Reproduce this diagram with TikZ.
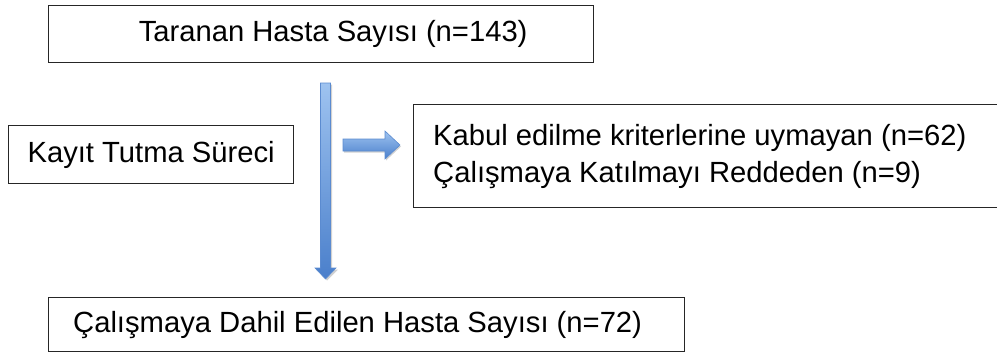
\documentclass[tikz,border=0pt]{standalone}
\usepackage{fontspec}
\setmainfont{Liberation Sans}
\begin{document}
\begin{tikzpicture}[x=1pt,y=-1pt,
  box/.style={draw=black!85,line width=1.3pt,fill=white,inner sep=0pt,font=\fontsize{29.2}{37}\selectfont},
  txt/.style={inner sep=0pt,anchor=west,align=left,font=\fontsize{29.2}{37}\selectfont},
  barrow/.style={top color=arrowlight,bottom color=arrowdark,draw=arrowedge,line width=0.6pt}]
\definecolor{arrowlight}{HTML}{9EC3F0}
\definecolor{arrowdark}{HTML}{4A7FCB}
\definecolor{arrowedge}{HTML}{5B8BD0}
\useasboundingbox (0,0) rectangle (997,354);
\begin{scope}
\clip (0,0) rectangle (997,354);
% boxes
\node[box,minimum width=545pt,minimum height=57pt,anchor=north west] (top) at (48,5) {\hspace*{24pt}Taranan Hasta Sayısı (n=143)};
\node[box,minimum width=285pt,minimum height=58pt,anchor=north west] (left) at (8,125) {Kayıt Tutma Süreci};
\node[box,minimum width=587pt,minimum height=103pt,anchor=north west] (right) at (413,104) {};
\node[txt] (righttext) at ([xshift=20pt]right.west) {Kabul edilme kriterlerine uymayan (n=62)\\Çalışmaya Katılmayı Reddeden (n=9)};
\node[box,minimum width=636pt,minimum height=54pt,anchor=north west] (bot) at (48,297) {};
\node[txt] (bottext) at ([xshift=25pt]bot.west) {Çalışmaya Dahil Edilen Hasta Sayısı (n=72)};
\end{scope}
% vertical block arrow
\coordinate (vtop) at (325.5,83);
\coordinate (vtip) at (325.5,279);
\fill[black!18] ([xshift=1.5pt,yshift=-1.5pt]vtop) ++(-5,0) -- ++(10,0) -- ++(0,185) -- ++(6,0) -- ([xshift=1.5pt,yshift=-1.5pt]vtip) -- ++(-10.5,-11) -- ++(6,0) -- cycle;
\path[barrow] (vtop) ++(-5,0) -- ++(10,0) -- ++(0,185) -- ++(5.5,0) -- (vtip) -- ++(-10.5,-11) -- ++(5.5,0) -- cycle;
% horizontal block arrow
\coordinate (hstart) at (343,145);
\coordinate (htip) at (400,145);
\fill[black!18] ([xshift=1pt,yshift=-1.5pt]hstart) ++(0,-6) -- ++(42,0) -- ++(0,-8) -- ([xshift=1pt,yshift=-1.5pt]htip) -- ++(-15,14) -- ++(0,-8) -- ++(-42,0) -- cycle;
\path[barrow] (hstart) ++(0,-6) -- ++(42,0) -- ++(0,-8) -- (htip) -- ++(-15,14) -- ++(0,-8) -- ++(-42,0) -- cycle;
\end{tikzpicture}
\end{document}
